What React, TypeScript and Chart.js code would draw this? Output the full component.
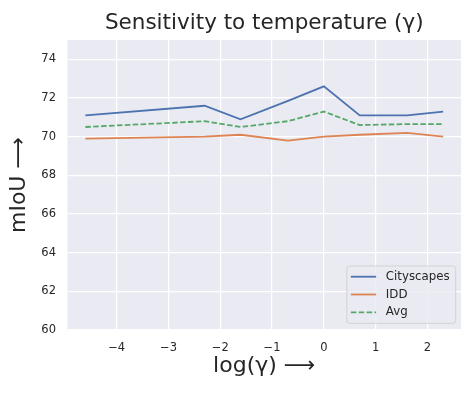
import React, { useEffect, useRef } from "react";
import { Chart, registerables } from "chart.js";

Chart.register(...registerables);

const titleText = "Sensitivity to temperature (\u03B3)";
const xTitle = "log(\u03B3) \u27F6";
const yTitle = "mIoU \u27F6";

// log(gamma) for gamma = 0.01, 0.1, 0.2, 0.5, 1, 2, 5, 10
const logGamma = [-4.605, -2.303, -1.609, -0.693, 0, 0.693, 1.609, 2.303];
const cityscapes = [71.1, 71.6, 70.9, 71.85, 72.6, 71.1, 71.1, 71.3];
const idd = [69.9, 70.0, 70.1, 69.8, 70.0, 70.1, 70.2, 70.0];
const avg = [70.5, 70.8, 70.5, 70.8, 71.3, 70.6, 70.65, 70.65];

const xTicks = [-4, -3, -2, -1, 0, 1, 2];
const yTicks = [60, 62, 64, 66, 68, 70, 72, 74];

const FONT = '"DejaVu Sans", sans-serif';
const TEXT = "#262626";

const bgPlugin = {
  id: "axesBg",
  beforeDraw(chart: any) {
    const { ctx, chartArea } = chart;
    ctx.save();
    ctx.fillStyle = "#EAEAF2";
    ctx.fillRect(chartArea.left, chartArea.top, chartArea.right - chartArea.left, chartArea.bottom - chartArea.top);
    ctx.restore();
  },
};

const legendPlugin = {
  id: "boxLegend",
  afterDraw(chart: any) {
    const { ctx, chartArea } = chart;
    const items = chart.data.datasets;
    const fs = 11.8;
    ctx.save();
    ctx.font = `${fs}px ${FONT}`;
    const maxW = Math.max(...items.map((d: any) => ctx.measureText(d.label).width));
    const rowH = 17.8;
    const w = 4 + 25.3 + 9.7 + maxW + 6;
    const h = 10.7 + rowH * (items.length - 1) + 11;
    const right = chartArea.right - 5.3;
    const bottom = chartArea.bottom - 6.7;
    const left = right - w;
    const top = bottom - h;
    ctx.beginPath();
    ctx.roundRect(left, top, w, h, 3);
    ctx.fillStyle = "rgba(234,234,242,0.8)";
    ctx.fill();
    ctx.strokeStyle = "rgba(204,204,204,0.8)";
    ctx.lineWidth = 1;
    ctx.stroke();
    items.forEach((d: any, i: number) => {
      const cy = top + 10.7 + i * rowH;
      ctx.beginPath();
      ctx.setLineDash(d.borderDash || []);
      ctx.strokeStyle = d.borderColor;
      ctx.lineWidth = d.borderWidth;
      ctx.moveTo(left + 4, cy);
      ctx.lineTo(left + 4 + 25.3, cy);
      ctx.stroke();
      ctx.setLineDash([]);
      ctx.fillStyle = TEXT;
      ctx.textBaseline = "middle";
      ctx.textAlign = "left";
      ctx.fillText(d.label, left + 4 + 25.3 + 9.7, cy);
    });
    ctx.restore();
  },
};

const fmt = (v: number) => String(v).replace("-", "\u2212");

export default function App() {
  const ref = useRef<HTMLCanvasElement | null>(null);
  useEffect(() => {
    if (!ref.current) return;
    const chart = new Chart(ref.current, {
      type: "line",
      data: {
        datasets: [
          {
            label: "Cityscapes",
            data: logGamma.map((x, i) => ({ x, y: cityscapes[i] })),
            borderColor: "#4C72B0",
            borderWidth: 1.8,
            pointRadius: 0,
            tension: 0,
          },
          {
            label: "IDD",
            data: logGamma.map((x, i) => ({ x, y: idd[i] })),
            borderColor: "#DD8452",
            borderWidth: 1.8,
            pointRadius: 0,
            tension: 0,
          },
          {
            label: "Avg",
            data: logGamma.map((x, i) => ({ x, y: avg[i] })),
            borderColor: "#55A868",
            borderWidth: 1.8,
            borderDash: [5.5, 2.4],
            pointRadius: 0,
            tension: 0,
          },
        ],
      },
      options: {
        responsive: false,
        animation: false,
        layout: { padding: { left: 0, right: 15, top: 0, bottom: 0 } },
        plugins: {
          legend: { display: false },
          tooltip: { enabled: false },
          title: {
            display: true,
            text: titleText,
            fullSize: false,
            color: TEXT,
            font: { family: FONT, size: 21.5, weight: "normal", lineHeight: 1.2 },
            padding: { top: 11, bottom: 3.2 },
          },
        },
        scales: {
          x: {
            type: "linear",
            min: -4.95,
            max: 2.648,
            afterBuildTicks: (scale: any) => {
              scale.ticks = xTicks.map((v) => ({ value: v }));
            },
            afterFit: (scale: any) => {
              scale.height = 67;
            },
            ticks: {
              color: TEXT,
              font: { family: FONT, size: 11.5 },
              padding: 11,
              callback: (v: any) => fmt(v),
            },
            grid: { color: "#FFFFFF", lineWidth: 1.2, drawTicks: false },
            border: { display: false },
            title: {
              display: true,
              text: xTitle,
              color: TEXT,
              font: { family: FONT, size: 22, lineHeight: 1.2 },
              padding: { top: 18, bottom: 18 },
            },
          },
          y: {
            type: "linear",
            min: 60,
            max: 75,
            afterBuildTicks: (scale: any) => {
              scale.ticks = yTicks.map((v) => ({ value: v }));
            },
            afterFit: (scale: any) => {
              scale.width = 67.5;
            },
            ticks: {
              color: TEXT,
              font: { family: FONT, size: 11.5 },
              padding: 11.5,
              callback: (v: any) => fmt(v),
            },
            grid: { color: "#FFFFFF", lineWidth: 1.2, drawTicks: false },
            border: { display: false },
            title: {
              display: true,
              text: yTitle,
              color: TEXT,
              font: { family: FONT, size: 22, lineHeight: 1.2 },
              padding: { top: 6, bottom: 6 },
            },
          },
        },
      },
      plugins: [bgPlugin, legendPlugin],
    } as any);
    return () => chart.destroy();
  }, []);
  return (
    <div style={{ position: "fixed", left: 0, top: 0, width: 476, height: 397, background: "#fff" }}>
      <canvas ref={ref} width={476} height={397} style={{ display: "block", width: 476, height: 397 }} />
    </div>
  );
}
